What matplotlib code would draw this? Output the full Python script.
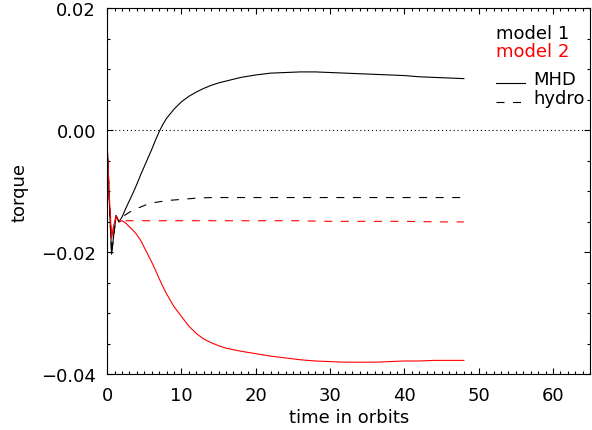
import numpy as np
import matplotlib
matplotlib.use("Agg")
import matplotlib.pyplot as plt
from matplotlib.ticker import MultipleLocator, FuncFormatter

# time grid (orbits) for the MHD runs
t_mhd = [0, 0.3, 0.6, 0.9, 1.2, 1.6, 2.0, 2.5, 3.0, 3.5, 4.0, 4.5, 5.0, 5.5,
         6.0, 6.5, 7.0, 7.5, 8.0, 9.0, 10, 11, 12, 13, 14, 15, 16, 18, 20,
         22, 24, 26, 28, 30, 32, 34, 36, 38, 40, 42, 44, 46, 48]

mhd_model1 = [-0.002, -0.012, -0.0203, -0.017, -0.014, -0.015, -0.0142,
              -0.0128, -0.0115, -0.0102, -0.0088, -0.0073, -0.0059, -0.0045,
              -0.0031, -0.0016, -0.0002, 0.001, 0.002, 0.0035, 0.0047, 0.0056,
              0.0063, 0.0069, 0.0074, 0.0078, 0.0081, 0.0087, 0.0091, 0.0094,
              0.0095, 0.0096, 0.0096, 0.0095, 0.0094, 0.0093, 0.0092, 0.0091,
              0.0090, 0.0088, 0.0087, 0.0086, 0.0085]

mhd_model2 = [-0.002, -0.011, -0.0177, -0.0155, -0.014, -0.015, -0.0148,
              -0.0152, -0.0158, -0.0164, -0.0171, -0.018, -0.0192, -0.0204,
              -0.0216, -0.0229, -0.0243, -0.0256, -0.0268, -0.0289, -0.0305,
              -0.0321, -0.0333, -0.0342, -0.0348, -0.0353, -0.0357, -0.0362,
              -0.0366, -0.037, -0.0373, -0.0376, -0.0378, -0.0379, -0.038,
              -0.038, -0.038, -0.0379, -0.0378, -0.0378, -0.0377, -0.0377,
              -0.0377]

# hydro runs
t_hydro = [0, 0.3, 0.6, 0.9, 1.2, 1.6, 2.0, 2.5, 3, 4, 5, 6, 7, 8, 10, 12,
           14, 16, 20, 25, 30, 35, 40, 45, 48]

hydro_model1 = [-0.002, -0.012, -0.0203, -0.017, -0.014, -0.015, -0.0142,
                -0.0138, -0.0134, -0.0128, -0.0123, -0.0119, -0.0117, -0.0115,
                -0.0113, -0.0111, -0.011, -0.011, -0.011, -0.011, -0.011,
                -0.011, -0.011, -0.011, -0.011]

hydro_model2 = [-0.002, -0.011, -0.0177, -0.0155, -0.014, -0.015, -0.0148,
                -0.0148, -0.0148, -0.0148, -0.0148, -0.0148, -0.0148, -0.0148,
                -0.0148, -0.0148, -0.0148, -0.0148, -0.0148, -0.0148, -0.0149,
                -0.0149, -0.0149, -0.015, -0.015]

plt.rcParams['font.family'] = 'DejaVu Sans'
fig = plt.figure(figsize=(5.92, 4.31), dpi=100)
ax = fig.add_axes([0.181, 0.129, 0.816, 0.849])

dash = (0, (7.2, 7.7))
ax.plot(t_mhd, mhd_model1, color='black', lw=0.8)
ax.plot(t_mhd, mhd_model2, color='red', lw=0.8)
ax.plot(t_hydro, hydro_model1, color='black', lw=0.8, linestyle=dash)
ax.plot(t_hydro, hydro_model2, color='red', lw=0.8, linestyle=dash)
ax.axhline(0, color='black', lw=0.8, linestyle=(0, (1, 2.5)))

ax.set_xlim(0, 65)
ax.set_ylim(-0.04, 0.02)
ax.xaxis.set_major_locator(MultipleLocator(10))
ax.xaxis.set_minor_locator(MultipleLocator(1))
ax.yaxis.set_major_locator(MultipleLocator(0.02))
ax.yaxis.set_minor_locator(MultipleLocator(0.005))
ax.yaxis.set_major_formatter(FuncFormatter(lambda v, p: f"{v:.2f}".replace('-', '\u2212')))
ax.tick_params(which='both', direction='in', top=True, right=True,
               labelsize=13, width=0.8)
ax.tick_params(which='major', length=4.5, pad=8)
ax.tick_params(which='minor', length=2.5)
for s in ax.spines.values():
    s.set_linewidth(0.8)

ax.set_xlabel('time in orbits', fontsize=13, labelpad=3)
ax.set_ylabel('torque', fontsize=13, labelpad=9)

# legend drawn as text, like the original
ax.text(0.805, 0.934, 'model 1', transform=ax.transAxes, fontsize=13,
        color='black', va='center')
ax.text(0.805, 0.885, 'model 2', transform=ax.transAxes, fontsize=13,
        color='red', va='center')
ax.plot([0.805, 0.865], [0.795, 0.795], transform=ax.transAxes, color='black', lw=0.8)
ax.text(0.882, 0.808, 'MHD', transform=ax.transAxes, fontsize=13, va='center')
ax.plot([0.805, 0.865], [0.745, 0.745], transform=ax.transAxes, color='black',
        lw=0.8, linestyle=(0, (7.2, 7.7)))
ax.text(0.882, 0.756, 'hydro', transform=ax.transAxes, fontsize=13, va='center')

fig.savefig('out.png', dpi=100)
